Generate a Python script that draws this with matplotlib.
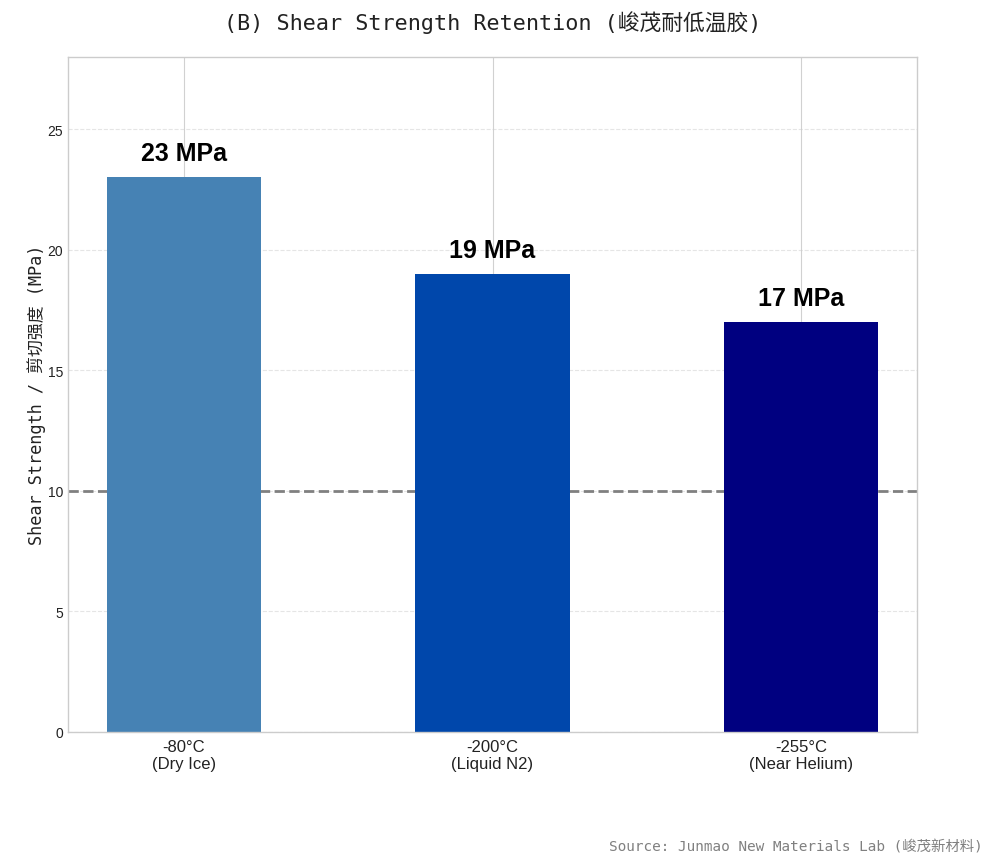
import matplotlib
matplotlib.use("Agg")
import matplotlib.pyplot as plt

# chart data
temps = ["-80°C\n(Dry Ice)", "-200°C\n(Liquid N2)", "-255°C\n(Near Helium)"]
strength = [23, 19, 17]
bar_colors = ["#4682B4", "#0047AB", "#000080"]
threshold = 10

MONO = ["DejaVu Sans Mono", "Noto Sans CJK SC"]

plt.style.use("seaborn-v0_8-whitegrid")
plt.rcParams["font.family"] = ["Liberation Sans", "DejaVu Sans"]

fig, ax = plt.subplots(figsize=(9.88, 8.62), dpi=100)
fig.subplots_adjust(left=0.069, right=0.928, top=0.933, bottom=0.15)

x = list(range(len(temps)))
bars = ax.bar(x, strength, width=0.5, color=bar_colors, zorder=2)
ax.axhline(threshold, color="gray", linestyle="--", linewidth=2, zorder=1)

for rect, val in zip(bars, strength):
    ax.text(rect.get_x() + rect.get_width() / 2, val + 0.5, f"{val} MPa",
            ha="center", va="bottom", fontsize=18, fontweight="bold", color="black")

ax.set_ylim(0, 28)
ax.set_xticks(x)
ax.set_xticklabels(temps, fontsize=12, color="#222222")
ax.tick_params(axis="y", labelsize=10, colors="#222222")
ax.tick_params(axis="x", pad=5)
ax.yaxis.grid(True, linestyle="--", alpha=0.5)
ax.xaxis.grid(True, linestyle="-", alpha=0.9)

for sp in ax.spines.values():
    sp.set_visible(True)
    sp.set_color("#cccccc")
    sp.set_linewidth(1)

ax.set_ylabel("Shear Strength / 剪切强度 (MPa)", family=MONO, fontsize=12.2,
              color="#222222", labelpad=1)
ax.set_title("(B) Shear Strength Retention (峻茂耐低温胶)", family=MONO, fontsize=15.7,
             pad=20, color="#222222")

fig.text(0.995, 0.01, "Source: Junmao New Materials Lab (峻茂新材料)", family=MONO,
         fontsize=10.4, color="gray", ha="right", va="bottom")

fig.savefig("out.png", dpi=100)
